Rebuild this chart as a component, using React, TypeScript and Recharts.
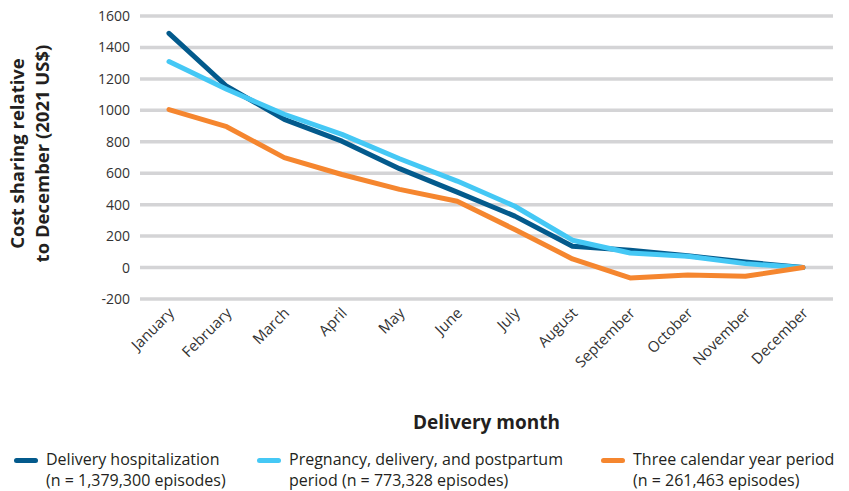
import React from "react";
import { LineChart, Line, XAxis, YAxis, CartesianGrid, Label } from "recharts";

const months = ["January","February","March","April","May","June","July","August","September","October","November","December"];
const deliveryHosp = [1490, 1153, 943, 804, 629, 480, 327, 136, 110, 75, 35, 0];
const pregnancyPeriod = [1310, 1134, 975, 847, 692, 550, 390, 174, 93, 72, 25, 0];
const threeYear = [1005, 896, 699, 592, 497, 422, 242, 55, -66, -47, -55, 0];
const yTicks = [-200, 0, 200, 400, 600, 800, 1000, 1200, 1400, 1600];

const seriesInfo = [
  { key: "hosp", color: "#035a8c", line1: "Delivery hospitalization", line2: "(n = 1,379,300 episodes)" },
  { key: "preg", color: "#45c8f5", line1: "Pregnancy, delivery, and postpartum", line2: "period (n = 773,328 episodes)" },
  { key: "three", color: "#f5862f", line1: "Three calendar year period", line2: "(n = 261,463 episodes)" },
];

const data = months.map((m, i) => ({
  month: m,
  hosp: deliveryHosp[i],
  preg: pregnancyPeriod[i],
  three: threeYear[i],
}));

const FONT = "'Open Sans', Roboto, sans-serif";

const YTick = (props: any) => {
  const { x, y, payload } = props;
  return (
    <text x={x} y={y} dy={5} textAnchor="end" fontSize={14} fill="#333" fontFamily={FONT}>
      {payload.value}
    </text>
  );
};

const XTick = (props: any) => {
  const { x, y, payload } = props;
  return (
    <g transform={`translate(${x + 6},${y + 15})`}>
      <text x={0} y={0} textAnchor="end" transform="rotate(-45)" fontSize={15} fill="#333" fontFamily={FONT}>
        {payload.value}
      </text>
    </g>
  );
};

const YLabel = (props: any) => {
  const vb = props.viewBox || {};
  const cy = vb.y + vb.height / 2 - 4;
  return (
    <g>
      <text transform={`translate(24,${cy}) rotate(-90)`} textAnchor="middle" fontSize={18.5} fontWeight="bold" fill="#231f20" fontFamily={FONT}>
        Cost sharing relative
      </text>
      <text transform={`translate(49,${cy}) rotate(-90)`} textAnchor="middle" fontSize={18.5} fontWeight="bold" fill="#231f20" fontFamily={FONT}>
        to December (2021 US$)
      </text>
    </g>
  );
};

export default function App() {
  return (
    <div style={{ position: "absolute", left: 0, top: 0, width: 849, height: 491, background: "#fff", fontFamily: FONT }}>
      <LineChart width={849} height={445} data={data} margin={{ top: 16, right: 16, left: 0, bottom: 0 }}>
        <CartesianGrid vertical={false} stroke="#d4d4d6" strokeWidth={3.5} />
        <XAxis
          dataKey="month"
          height={146}
          axisLine={false}
          tickLine={false}
          tickSize={0}
          tickMargin={0}
          interval={0}
          padding={{ left: 29, right: 30 }}
          tick={<XTick />}
        >
          <Label value="Delivery month" position="insideBottom" offset={16} fontSize={19} fontWeight="bold" fill="#231f20" fontFamily={FONT} />
        </XAxis>
        <YAxis
          width={140}
          domain={[-200, 1600]}
          ticks={yTicks}
          axisLine={false}
          tickLine={false}
          tickSize={0}
          tickMargin={10}
          interval={0}
          tick={<YTick />}
        >
          <Label content={<YLabel />} />
        </YAxis>
        {seriesInfo.map((s) => (
          <Line
            key={s.key}
            type="linear"
            dataKey={s.key}
            stroke={s.color}
            strokeWidth={5}
            dot={false}
            strokeLinecap="round"
            strokeLinejoin="round"
            isAnimationActive={false}
          />
        ))}
      </LineChart>
      <div style={{ position: "absolute", top: 449, left: 0, width: 849, height: 42 }}>
        {seriesInfo.map((s, i) => {
          const lefts = [14, 257, 601];
          return (
            <div key={s.key} style={{ position: "absolute", left: lefts[i], top: 0, display: "flex", alignItems: "flex-start" }}>
              <div style={{ width: 24, height: 5, borderRadius: 3, background: s.color, marginTop: 9, marginRight: 8 }} />
              <div style={{ fontSize: 16, lineHeight: "21px", color: "#231f20", whiteSpace: "nowrap" }}>
                <div>{s.line1}</div>
                <div>{s.line2}</div>
              </div>
            </div>
          );
        })}
      </div>
    </div>
  );
}
